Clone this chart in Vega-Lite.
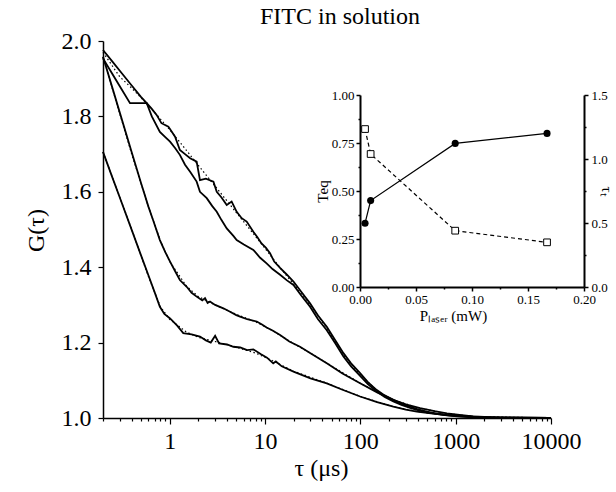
{
  "$schema": "https://vega.github.io/schema/vega-lite/v6.json",
  "width": 448,
  "height": 377,
  "autosize": "none",
  "padding": {"left": 103, "top": 41, "right": 65, "bottom": 74},
  "background": "white",
  "config": {"font": "Liberation Serif", "view": {"stroke": null}, "axis": {"grid": false, "domainColor": "black", "tickColor": "black", "labelColor": "black", "titleColor": "black", "titleFontWeight": "normal", "labelFont": "Liberation Serif", "titleFont": "Liberation Serif"}},
  "title": {"text": "FITC in solution", "fontSize": 24, "fontWeight": "normal", "font": "Liberation Serif", "color": "black", "frame": "group", "anchor": "middle", "dx": 13, "offset": -19, "baseline": "alphabetic"},
  "datasets": {
    "curves": [
      {"s":"A","t":0.2,"g":1.706},{"s":"A","t":0.25,"g":1.639},{"s":"A","t":0.3,"g":1.585},{"s":"A","t":0.4,"g":1.499},{"s":"A","t":0.5,"g":1.432},{"s":"A","t":0.6,"g":1.378},{"s":"A","t":0.7,"g":1.332},{"s":"A","t":0.79,"g":1.295},{"s":"A","t":0.88,"g":1.276},{"s":"A","t":1.01,"g":1.264},{"s":"A","t":1.2,"g":1.245},{"s":"A","t":1.39,"g":1.225},{"s":"A","t":1.7,"g":1.222},{"s":"A","t":2.08,"g":1.216},{"s":"A","t":2.4,"g":1.206},{"s":"A","t":2.7,"g":1.2},{"s":"A","t":3.0,"g":1.218},{"s":"A","t":3.3,"g":1.198},{"s":"A","t":4.0,"g":1.195},{"s":"A","t":4.66,"g":1.189},{"s":"A","t":5.5,"g":1.187},{"s":"A","t":6.5,"g":1.18},{"s":"A","t":7.55,"g":1.182},{"s":"A","t":9,"g":1.17},{"s":"A","t":10.5,"g":1.16},{"s":"A","t":12.2,"g":1.145},{"s":"A","t":13,"g":1.15},{"s":"A","t":15,"g":1.137},{"s":"A","t":19.9,"g":1.123},{"s":"A","t":30,"g":1.105},{"s":"A","t":44.5,"g":1.092},{"s":"A","t":65,"g":1.075},{"s":"A","t":99.5,"g":1.057},{"s":"A","t":150,"g":1.042},{"s":"A","t":222,"g":1.03},{"s":"A","t":300,"g":1.022},{"s":"A","t":392,"g":1.017},{"s":"A","t":550,"g":1.012},{"s":"A","t":809,"g":1.008},{"s":"A","t":1200,"g":1.005},{"s":"A","t":2000,"g":1.002},{"s":"A","t":4000,"g":1.001},{"s":"A","t":10000,"g":1.0},
      {"s":"B","t":0.2,"g":1.958},{"s":"B","t":0.25,"g":1.877},{"s":"B","t":0.3,"g":1.81},{"s":"B","t":0.4,"g":1.705},{"s":"B","t":0.5,"g":1.624},{"s":"B","t":0.6,"g":1.56},{"s":"B","t":0.67,"g":1.525},{"s":"B","t":0.79,"g":1.472},{"s":"B","t":0.9,"g":1.44},{"s":"B","t":1.01,"g":1.415},{"s":"B","t":1.15,"g":1.388},{"s":"B","t":1.28,"g":1.366},{"s":"B","t":1.51,"g":1.348},{"s":"B","t":1.7,"g":1.332},{"s":"B","t":1.92,"g":1.322},{"s":"B","t":2.2,"g":1.312},{"s":"B","t":2.35,"g":1.318},{"s":"B","t":2.5,"g":1.305},{"s":"B","t":2.65,"g":1.309},{"s":"B","t":3.0,"g":1.3},{"s":"B","t":3.66,"g":1.291},{"s":"B","t":4.3,"g":1.282},{"s":"B","t":5.0,"g":1.273},{"s":"B","t":5.48,"g":1.269},{"s":"B","t":6.5,"g":1.262},{"s":"B","t":8.2,"g":1.256},{"s":"B","t":9.3,"g":1.248},{"s":"B","t":10.4,"g":1.24},{"s":"B","t":12,"g":1.232},{"s":"B","t":14.4,"g":1.22},{"s":"B","t":18,"g":1.203},{"s":"B","t":23.3,"g":1.189},{"s":"B","t":30,"g":1.172},{"s":"B","t":44.5,"g":1.145},{"s":"B","t":65,"g":1.118},{"s":"B","t":99.5,"g":1.092},{"s":"B","t":150,"g":1.068},{"s":"B","t":222,"g":1.048},{"s":"B","t":300,"g":1.036},{"s":"B","t":424,"g":1.026},{"s":"B","t":600,"g":1.018},{"s":"B","t":809,"g":1.012},{"s":"B","t":1100,"g":1.008},{"s":"B","t":1525,"g":1.004},{"s":"B","t":3000,"g":1.001},{"s":"B","t":10000,"g":1.0},
      {"s":"C","t":0.2,"g":1.976},{"s":"C","t":0.25,"g":1.946},{"s":"C","t":0.3,"g":1.921},{"s":"C","t":0.4,"g":1.882},{"s":"C","t":0.5,"g":1.852},{"s":"C","t":0.575,"g":1.835},{"s":"C","t":0.65,"g":1.82},{"s":"C","t":0.73,"g":1.804},{"s":"C","t":0.82,"g":1.782},{"s":"C","t":0.97,"g":1.773},{"s":"C","t":1.14,"g":1.746},{"s":"C","t":1.28,"g":1.711},{"s":"C","t":1.45,"g":1.7},{"s":"C","t":1.64,"g":1.689},{"s":"C","t":1.92,"g":1.68},{"s":"C","t":2.08,"g":1.631},{"s":"C","t":2.4,"g":1.635},{"s":"C","t":2.88,"g":1.627},{"s":"C","t":3.12,"g":1.6},{"s":"C","t":3.5,"g":1.585},{"s":"C","t":3.97,"g":1.565},{"s":"C","t":4.47,"g":1.574},{"s":"C","t":5.05,"g":1.547},{"s":"C","t":5.7,"g":1.53},{"s":"C","t":6.43,"g":1.521},{"s":"C","t":7.55,"g":1.494},{"s":"C","t":8.3,"g":1.48},{"s":"C","t":9.2,"g":1.463},{"s":"C","t":10.2,"g":1.452},{"s":"C","t":11.3,"g":1.437},{"s":"C","t":12.5,"g":1.415},{"s":"C","t":14.4,"g":1.398},{"s":"C","t":17,"g":1.38},{"s":"C","t":19.9,"g":1.362},{"s":"C","t":24,"g":1.335},{"s":"C","t":29.7,"g":1.304},{"s":"C","t":36,"g":1.272},{"s":"C","t":44.5,"g":1.242},{"s":"C","t":55,"g":1.205},{"s":"C","t":66.5,"g":1.172},{"s":"C","t":80,"g":1.145},{"s":"C","t":99.5,"g":1.119},{"s":"C","t":120,"g":1.095},{"s":"C","t":149,"g":1.074},{"s":"C","t":180,"g":1.06},{"s":"C","t":222,"g":1.048},{"s":"C","t":270,"g":1.038},{"s":"C","t":333,"g":1.03},{"s":"C","t":400,"g":1.023},{"s":"C","t":498,"g":1.017},{"s":"C","t":650,"g":1.011},{"s":"C","t":809,"g":1.008},{"s":"C","t":1100,"g":1.005},{"s":"C","t":1525,"g":1.003},{"s":"C","t":2500,"g":1.001},{"s":"C","t":10000,"g":1.0},
      {"s":"D","t":0.2,"g":1.954},{"s":"D","t":0.25,"g":1.913},{"s":"D","t":0.3,"g":1.88},{"s":"D","t":0.384,"g":1.835},{"s":"D","t":0.45,"g":1.835},{"s":"D","t":0.575,"g":1.835},{"s":"D","t":0.65,"g":1.8},{"s":"D","t":0.79,"g":1.759},{"s":"D","t":0.9,"g":1.745},{"s":"D","t":1.01,"g":1.733},{"s":"D","t":1.15,"g":1.715},{"s":"D","t":1.28,"g":1.698},{"s":"D","t":1.45,"g":1.672},{"s":"D","t":1.64,"g":1.653},{"s":"D","t":1.92,"g":1.627},{"s":"D","t":2.08,"g":1.6},{"s":"D","t":2.45,"g":1.583},{"s":"D","t":2.8,"g":1.562},{"s":"D","t":3.12,"g":1.547},{"s":"D","t":3.5,"g":1.525},{"s":"D","t":3.97,"g":1.503},{"s":"D","t":4.66,"g":1.483},{"s":"D","t":5.05,"g":1.472},{"s":"D","t":6.0,"g":1.46},{"s":"D","t":7.55,"g":1.446},{"s":"D","t":8.9,"g":1.425},{"s":"D","t":10.4,"g":1.41},{"s":"D","t":12,"g":1.395},{"s":"D","t":14.4,"g":1.38},{"s":"D","t":17,"g":1.365},{"s":"D","t":19.9,"g":1.353},{"s":"D","t":24,"g":1.325},{"s":"D","t":29.7,"g":1.295},{"s":"D","t":36,"g":1.262},{"s":"D","t":44.5,"g":1.233},{"s":"D","t":55,"g":1.197},{"s":"D","t":66.5,"g":1.163},{"s":"D","t":80,"g":1.137},{"s":"D","t":99.5,"g":1.112},{"s":"D","t":120,"g":1.09},{"s":"D","t":149,"g":1.07},{"s":"D","t":180,"g":1.056},{"s":"D","t":222,"g":1.044},{"s":"D","t":270,"g":1.035},{"s":"D","t":333,"g":1.027},{"s":"D","t":400,"g":1.021},{"s":"D","t":498,"g":1.015},{"s":"D","t":650,"g":1.01},{"s":"D","t":809,"g":1.007},{"s":"D","t":1100,"g":1.004},{"s":"D","t":1525,"g":1.002},{"s":"D","t":2500,"g":1.001},{"s":"D","t":10000,"g":1.0}
    ],
    "fits": [
      {"s":"fA","t":0.2,"g":1.706},{"s":"fA","t":0.4,"g":1.5},{"s":"fA","t":0.6,"g":1.375},{"s":"fA","t":0.8,"g":1.295},{"s":"fA","t":1,"g":1.262},{"s":"fA","t":1.5,"g":1.228},{"s":"fA","t":2,"g":1.214},{"s":"fA","t":3,"g":1.203},{"s":"fA","t":5,"g":1.188},{"s":"fA","t":8,"g":1.172},{"s":"fA","t":12,"g":1.152},{"s":"fA","t":20,"g":1.124},{"s":"fA","t":45,"g":1.092},{"s":"fA","t":100,"g":1.057},{"s":"fA","t":220,"g":1.03},{"s":"fA","t":400,"g":1.017},{"s":"fA","t":800,"g":1.008},{"s":"fA","t":2000,"g":1.002},{"s":"fA","t":10000,"g":1.0},
      {"s":"fB","t":0.2,"g":1.958},{"s":"fB","t":0.4,"g":1.7},{"s":"fB","t":0.6,"g":1.56},{"s":"fB","t":0.8,"g":1.47},{"s":"fB","t":1,"g":1.415},{"s":"fB","t":1.5,"g":1.35},{"s":"fB","t":2,"g":1.322},{"s":"fB","t":3,"g":1.3},{"s":"fB","t":5,"g":1.275},{"s":"fB","t":8,"g":1.255},{"s":"fB","t":12,"g":1.232},{"s":"fB","t":20,"g":1.197},{"s":"fB","t":30,"g":1.172},{"s":"fB","t":45,"g":1.145},{"s":"fB","t":100,"g":1.092},{"s":"fB","t":220,"g":1.048},{"s":"fB","t":420,"g":1.026},{"s":"fB","t":800,"g":1.012},{"s":"fB","t":1500,"g":1.004},{"s":"fB","t":10000,"g":1.0},
      {"s":"fC","t":0.2,"g":1.97},{"s":"fC","t":0.3,"g":1.905},{"s":"fC","t":0.4,"g":1.875},{"s":"fC","t":0.5,"g":1.85},{"s":"fC","t":0.7,"g":1.81},{"s":"fC","t":1,"g":1.765},{"s":"fC","t":1.5,"g":1.71},{"s":"fC","t":2,"g":1.67},{"s":"fC","t":3,"g":1.615},{"s":"fC","t":5,"g":1.545},{"s":"fC","t":7.5,"g":1.49},{"s":"fC","t":10,"g":1.45},{"s":"fC","t":15,"g":1.393},{"s":"fC","t":20,"g":1.355},{"s":"fC","t":30,"g":1.298},{"s":"fC","t":45,"g":1.237},{"s":"fC","t":66,"g":1.168},{"s":"fC","t":100,"g":1.115},{"s":"fC","t":150,"g":1.072},{"s":"fC","t":220,"g":1.046},{"s":"fC","t":330,"g":1.028},{"s":"fC","t":500,"g":1.016},{"s":"fC","t":800,"g":1.008},{"s":"fC","t":1500,"g":1.003},{"s":"fC","t":3000,"g":1.001},{"s":"fC","t":10000,"g":1.0}
    ],
    "inset": [
      {"p":0.0045,"teq":0.332,"tau":1.234},
      {"p":0.0095,"teq":0.45,"tau":1.039},
      {"p":0.085,"teq":0.748,"tau":0.44},
      {"p":0.167,"teq":0.8,"tau":0.349}
    ]
  },
  "layer": [
    {
      "layer": [
        {
          "data": {"name": "fits"},
          "mark": {"type": "line", "color": "black", "strokeWidth": 1.2, "strokeDash": [1.5, 2.5]},
          "encoding": {
            "x": {"field": "t", "type": "quantitative", "scale": {"type": "log", "domain": [0.2, 10000], "nice": false},
              "axis": {"orient": "bottom", "values": [0.2,0.3,0.4,0.5,0.6,0.7,0.8,0.9,1,2,3,4,5,6,7,8,9,10,20,30,40,50,60,70,80,90,100,200,300,400,500,600,700,800,900,1000,2000,3000,4000,5000,6000,7000,8000,9000,10000],
                "labelExpr": "abs(log(datum.value)/LN10 - round(log(datum.value)/LN10)) < 0.001 ? format(datum.value, 'd') : ''",
                "tickSize": {"condition": {"test": "abs(log(datum.value)/LN10 - round(log(datum.value)/LN10)) < 0.001", "value": 6}, "value": 3},
                "labelFontSize": 24, "labelPadding": 5, "labelOverlap": false, "labelFlush": false, "labelBound": false,
                "domainWidth": 1.5, "tickWidth": 1.2,
                "title": "τ (μs)", "titleFontSize": 24, "titleX": 218, "titleY": 57, "titleBaseline": "alphabetic", "titleAlign": "center"}},
            "y": {"field": "g", "type": "quantitative", "scale": {"domain": [1, 2], "nice": false, "zero": false},
              "axis": {"orient": "left", "values": [1,1.1,1.2,1.3,1.4,1.5,1.6,1.7,1.8,1.9,2.0],
                "labelExpr": "abs(datum.value*5 - round(datum.value*5)) < 0.001 ? format(datum.value, '.1f') : ''",
                "tickSize": {"condition": {"test": "abs(datum.value*5 - round(datum.value*5)) < 0.001", "value": 5}, "value": 3},
                "labelFontSize": 24, "labelPadding": 7, "labelOverlap": false, "labelFlush": false, "labelBound": false,
                "domainWidth": 1.5, "tickWidth": 1.2,
                "title": "G(τ)", "titleFontSize": 24, "titleAngle": -90, "titleX": -60, "titleY": 189, "titleBaseline": "alphabetic", "titleAlign": "center"}},
            "detail": {"field": "s"}
          }
        },
        {
          "data": {"name": "curves"},
          "mark": {"type": "line", "color": "black", "strokeWidth": 1.8},
          "encoding": {
            "x": {"field": "t", "type": "quantitative", "scale": {"type": "log", "domain": [0.2, 10000], "nice": false}},
            "y": {"field": "g", "type": "quantitative", "scale": {"domain": [1, 2], "nice": false, "zero": false}},
            "detail": {"field": "s"}
          }
        }
      ]
    },
    {
      "data": {"name": "inset"},
      "layer": [
        {
          "layer": [
            {
              "mark": {"type": "line", "color": "black", "strokeWidth": 1.2},
              "encoding": {
                "x": {"field": "p", "type": "quantitative", "scale": {"domain": [0, 0.2], "range": [257, 481], "nice": false, "zero": false},
                  "axis": {"orient": "bottom", "offset": -131, "values": [0,0.025,0.05,0.075,0.1,0.125,0.15,0.175,0.2],
                    "labelExpr": "abs(datum.value*20 - round(datum.value*20)) < 0.001 ? format(datum.value, '.2f') : ''",
                    "tickSize": {"condition": {"test": "abs(datum.value*20 - round(datum.value*20)) < 0.001", "value": 4}, "value": 2},
                    "labelFontSize": 13, "labelPadding": 2, "labelOverlap": false, "labelFlush": false, "labelBound": false,
                    "domainWidth": 2, "tickWidth": 1.5,
                    "title": "Pₗₐₛₑᵣ (mW)", "titleFontSize": 15, "titleX": 350, "titleY": 33, "titleBaseline": "alphabetic", "titleAlign": "center"}},
                "y": {"field": "teq", "type": "quantitative", "scale": {"domain": [0, 1], "range": [246, 54], "nice": false},
                  "axis": {"orient": "left", "offset": -257, "values": [0,0.125,0.25,0.375,0.5,0.625,0.75,0.875,1],
                    "labelExpr": "abs(datum.value*4 - round(datum.value*4)) < 0.001 ? format(datum.value, '.2f') : ''",
                    "tickSize": {"condition": {"test": "abs(datum.value*4 - round(datum.value*4)) < 0.001", "value": 4}, "value": 2},
                    "labelFontSize": 13, "labelPadding": 2, "labelOverlap": false, "labelFlush": false, "labelBound": false,
                    "domainWidth": 2, "tickWidth": 1.5,
                    "title": "Teq", "titleFontSize": 15, "titleAngle": -90, "titleX": -33, "titleY": 150, "titleBaseline": "alphabetic", "titleAlign": "center"}}
              }
            },
            {
              "mark": {"type": "point", "shape": "circle", "filled": true, "color": "black", "size": 50, "opacity": 1},
              "encoding": {
                "x": {"field": "p", "type": "quantitative", "scale": {"domain": [0, 0.2], "range": [257, 481], "nice": false, "zero": false}},
                "y": {"field": "teq", "type": "quantitative", "scale": {"domain": [0, 1], "range": [246, 54], "nice": false}}
              }
            }
          ]
        },
        {
          "layer": [
            {
              "mark": {"type": "line", "color": "black", "strokeWidth": 1.2, "strokeDash": [4, 3]},
              "encoding": {
                "x": {"field": "p", "type": "quantitative", "scale": {"domain": [0, 0.2], "range": [257, 481], "nice": false, "zero": false}},
                "y": {"field": "tau", "type": "quantitative", "scale": {"domain": [0, 1.5], "range": [246, 54], "nice": false},
                  "axis": {"orient": "right", "offset": 33, "values": [0,0.25,0.5,0.75,1,1.25,1.5],
                    "labelExpr": "abs(datum.value*2 - round(datum.value*2)) < 0.001 ? format(datum.value, '.1f') : ''",
                    "tickSize": {"condition": {"test": "abs(datum.value*2 - round(datum.value*2)) < 0.001", "value": 4}, "value": 2},
                    "labelFontSize": 13, "labelPadding": 3, "labelOverlap": false, "labelFlush": false, "labelBound": false,
                    "domainWidth": 2, "tickWidth": 1.5,
                    "title": "τₜ", "titleFontSize": 15, "titleAngle": 90, "titleX": 17, "titleY": 150, "titleBaseline": "alphabetic", "titleAlign": "center"}}
              }
            },
            {
              "mark": {"type": "point", "shape": "square", "filled": true, "fill": "white", "stroke": "black", "strokeWidth": 1, "size": 45, "opacity": 1},
              "encoding": {
                "x": {"field": "p", "type": "quantitative", "scale": {"domain": [0, 0.2], "range": [257, 481], "nice": false, "zero": false}},
                "y": {"field": "tau", "type": "quantitative", "scale": {"domain": [0, 1.5], "range": [246, 54], "nice": false}}
              }
            }
          ]
        }
      ],
      "resolve": {"scale": {"y": "independent"}, "axis": {"y": "independent"}}
    }
  ],
  "resolve": {"scale": {"x": "independent", "y": "independent"}, "axis": {"x": "independent", "y": "independent"}}
}
